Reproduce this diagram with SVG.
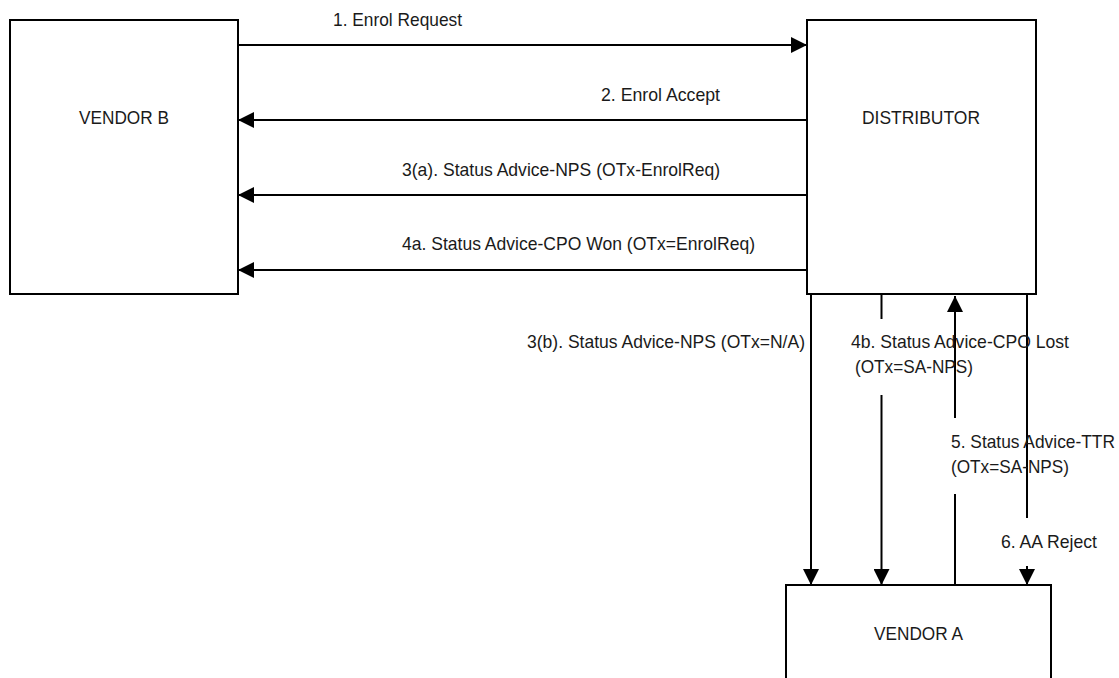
<svg xmlns="http://www.w3.org/2000/svg" width="1119" height="678" viewBox="0 0 1119 678">
<defs>
<style>
.box{fill:#fff;stroke:#000;stroke-width:2}
.ln{stroke:#000;stroke-width:2;fill:none}
.arr{marker-end:url(#ah)}
text{font-family:"Liberation Sans",Arial,sans-serif;font-size:19px;fill:#1a1a1a}
</style>
<marker id="ah" markerUnits="userSpaceOnUse" markerWidth="16" markerHeight="16" refX="15" refY="7.5" orient="auto" viewBox="0 0 15 15">
<path d="M0,0 L15,7.5 L0,15 z" fill="#000"/>
</marker>
</defs>
<rect width="1119" height="678" fill="#fff"/>
<g id="vendor-b">
<rect class="box" x="10" y="20" width="228" height="274"/>
<text x="79" y="124" textLength="90" lengthAdjust="spacingAndGlyphs">VENDOR B</text>
</g>
<g id="distributor">
<rect class="box" x="807" y="20" width="229" height="274"/>
<text x="862" y="124" textLength="118" lengthAdjust="spacingAndGlyphs">DISTRIBUTOR</text>
</g>
<g id="vendor-a">
<rect class="box" x="786" y="585" width="265" height="120"/>
<text x="874" y="640" textLength="89" lengthAdjust="spacingAndGlyphs">VENDOR A</text>
</g>
<g id="connectors">
<line class="ln arr" x1="238" y1="45" x2="807" y2="45"/>
<line class="ln arr" x1="807" y1="120" x2="238" y2="120"/>
<line class="ln arr" x1="807" y1="195" x2="238" y2="195"/>
<line class="ln arr" x1="807" y1="270" x2="238" y2="270"/>
<line class="ln arr" x1="811" y1="294" x2="811" y2="585"/>
<line class="ln" x1="881.5" y1="294" x2="881.5" y2="319"/>
<line class="ln arr" x1="881.5" y1="395" x2="881.5" y2="585"/>
<line class="ln" x1="955" y1="585" x2="955" y2="494"/>
<line class="ln arr" x1="955" y1="418" x2="955" y2="296"/>
<line class="ln" x1="1027" y1="294" x2="1027" y2="518"/>
<line class="ln arr" x1="1027" y1="566" x2="1027" y2="585"/>
</g>
<g id="labels">
<text x="333" y="26" textLength="129" lengthAdjust="spacingAndGlyphs">1. Enrol Request</text>
<text x="601" y="101" textLength="119" lengthAdjust="spacingAndGlyphs">2. Enrol Accept</text>
<text x="402" y="176" textLength="318" lengthAdjust="spacingAndGlyphs">3(a). Status Advice-NPS (OTx-EnrolReq)</text>
<text x="402" y="250" textLength="353" lengthAdjust="spacingAndGlyphs">4a. Status Advice-CPO Won (OTx=EnrolReq)</text>
<text x="527" y="348" textLength="278" lengthAdjust="spacingAndGlyphs">3(b). Status Advice-NPS (OTx=N/A)</text>
<text x="851" y="348" textLength="218" lengthAdjust="spacingAndGlyphs">4b. Status Advice-CPO Lost</text>
<text x="855" y="373" textLength="118" lengthAdjust="spacingAndGlyphs">(OTx=SA-NPS)</text>
<text x="951" y="448" textLength="164" lengthAdjust="spacingAndGlyphs">5. Status Advice-TTR</text>
<text x="951" y="473" textLength="118" lengthAdjust="spacingAndGlyphs">(OTx=SA-NPS)</text>
<text x="1001" y="548" textLength="96" lengthAdjust="spacingAndGlyphs">6. AA Reject</text>
</g>
</svg>
